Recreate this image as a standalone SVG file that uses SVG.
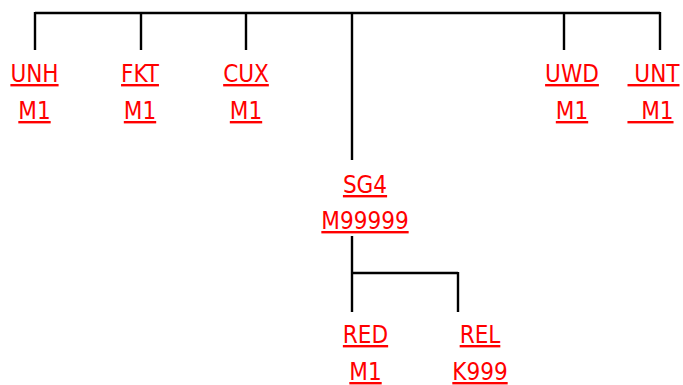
<svg xmlns="http://www.w3.org/2000/svg" width="683" height="385" viewBox="0 0 683 385">
<style>
.lbl{font-family:"DejaVu Sans Condensed","DejaVu Sans","Liberation Sans",sans-serif;font-stretch:condensed;font-size:24px;fill:#ff0000;text-anchor:middle;text-decoration:underline;white-space:pre}
.ln{stroke:#000;stroke-width:2.4;fill:none}
</style>
<rect width="683" height="385" fill="#fff"/>
<g id="connectors">
<path class="ln" d="M35 13H660M35 12V50M141 12V50M246 12V50M352 12V160M564 12V50M660 12V50"/>
<path class="ln" d="M352 236V312M352 273H458M458 272V312"/>
</g>
<g id="UNH"><text class="lbl" x="34.5" y="82">UNH</text><text class="lbl" x="34.5" y="119">M1</text></g>
<g id="FKT"><text class="lbl" x="140" y="82">FKT</text><text class="lbl" x="140" y="119">M1</text></g>
<g id="CUX"><text class="lbl" x="246" y="82">CUX</text><text class="lbl" x="246" y="119">M1</text></g>
<g id="UWD"><text class="lbl" x="572" y="82">UWD</text><text class="lbl" x="572" y="119">M1</text></g>
<g id="UNT"><text class="lbl" x="653.5" y="82" xml:space="preserve"> UNT</text><text class="lbl" x="650.5" y="119" xml:space="preserve">  M1</text></g>
<g id="SG4"><text class="lbl" x="365" y="193">SG4</text><text class="lbl" x="365" y="229">M99999</text></g>
<g id="RED"><text class="lbl" x="365.5" y="343">RED</text><text class="lbl" x="365.5" y="380">M1</text></g>
<g id="REL"><text class="lbl" x="480" y="343">REL</text><text class="lbl" x="480" y="380">K999</text></g>
</svg>
